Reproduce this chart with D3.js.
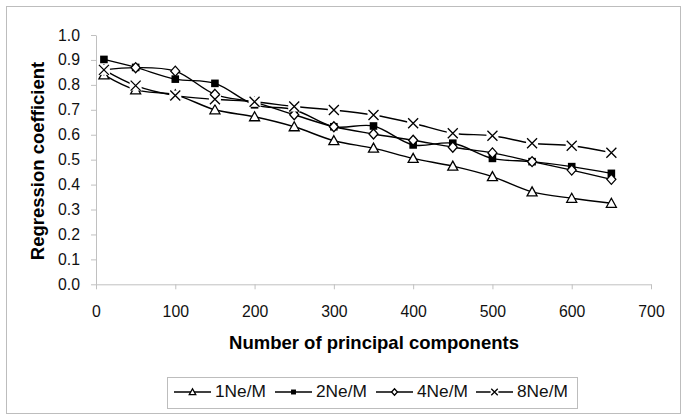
<!DOCTYPE html>
<html><head><meta charset="utf-8">
<script src="https://cdn.jsdelivr.net/npm/d3@7"></script>
<style>body{margin:0;background:#fff}svg{display:block}text{font-family:"Liberation Sans",Arial,sans-serif}</style>
</head><body><svg id="c" width="685" height="420"></svg>
<script>
const components = [10,50,100,150,200,250,300,350,400,450,500,550,600,650];
const s1Ne = [0.84,0.78,0.76,0.70,0.672,0.632,0.576,0.546,0.505,0.474,0.432,0.371,0.345,0.325];
const s2Ne = [0.902,0.870,0.823,0.806,0.72,0.70,0.632,0.635,0.559,0.566,0.505,0.492,0.472,0.445];
const s4Ne = [0.86,0.869,0.855,0.762,0.73,0.68,0.632,0.603,0.578,0.55,0.527,0.492,0.458,0.421];
const s8Ne = [0.86,0.797,0.757,0.742,0.732,0.713,0.699,0.679,0.646,0.606,0.596,0.566,0.556,0.528];
const seriesNames = ["1Ne/M","2Ne/M","4Ne/M","8Ne/M"];
const markers = ["triangle","square","diamond","cross"];
const xTicks = [0,100,200,300,400,500,600,700];
const yTicks = [0,0.1,0.2,0.3,0.4,0.5,0.6,0.7,0.8,0.9,1.0];

const svg = d3.select("#c");
svg.append("rect").attr("x",6.5).attr("y",6.5).attr("width",674).attr("height",407)
  .attr("fill","#fff").attr("stroke","#bdbdbd").attr("stroke-width",1);

const x = d3.scaleLinear().domain([0,700]).range([96,651]);
const y = d3.scaleLinear().domain([0,1]).range([284.3,35]);

const xAxis = svg.append("g").attr("transform","translate(0,284.3)")
  .call(d3.axisBottom(x).tickValues(xTicks).tickSizeInner(5).tickSizeOuter(0).tickPadding(16));
const yAxis = svg.append("g").attr("transform","translate(96,0)")
  .call(d3.axisLeft(y).tickValues(yTicks).tickFormat(d3.format(".1f")).tickSizeInner(5).tickSizeOuter(0).tickPadding(11));
[xAxis,yAxis].forEach(g=>{
  g.select(".domain").attr("stroke","#c0c0c0");
  g.selectAll(".tick line").attr("stroke","#c0c0c0");
  g.selectAll(".tick text").attr("font-size",15.8).attr("fill","#111").attr("font-family","'Liberation Sans',Arial,sans-serif");
});
xAxis.selectAll(".tick text").attr("dy","0.71em");

svg.append("text").attr("x",374).attr("y",349.3).attr("text-anchor","middle")
  .attr("font-size",18.5).attr("font-weight","bold").text("Number of principal components");
svg.append("text").attr("transform","translate(43.5,161) rotate(-90)").attr("text-anchor","middle")
  .attr("font-size",18.5).attr("font-weight","bold").text("Regression coefficient");

const data = [s1Ne,s2Ne,s4Ne,s8Ne];
const line = d3.line().x(d=>x(d[0])).y(d=>y(d[1])).curve(d3.curveCatmullRom.alpha(0.5));

function drawMarker(g, type, cx, cy, s){
  s = s || 1;
  if(type==="triangle"){
    g.append("path").attr("d",`M${cx},${cy-5*s}L${cx+5*s},${cy+4*s}L${cx-5*s},${cy+4*s}Z`)
      .attr("fill","#fff").attr("stroke","#000").attr("stroke-width",1.3);
  } else if(type==="square"){
    g.append("rect").attr("x",cx-3.8*s).attr("y",cy-3.8*s).attr("width",7.6*s).attr("height",7.6*s).attr("fill","#000");
  } else if(type==="diamond"){
    g.append("path").attr("d",`M${cx},${cy-5*s}L${cx+4.5*s},${cy}L${cx},${cy+5*s}L${cx-4.5*s},${cy}Z`)
      .attr("fill","#fff").attr("stroke","#000").attr("stroke-width",1.3);
  } else {
    g.append("rect").attr("x",cx-6*s).attr("y",cy-5*s).attr("width",12*s).attr("height",10*s).attr("fill","#fff");
    g.append("path").attr("d",`M${cx-5*s},${cy-5*s}L${cx+5*s},${cy+5*s}M${cx+5*s},${cy-5*s}L${cx-5*s},${cy+5*s}`)
      .attr("stroke","#000").attr("stroke-width",1.3).attr("fill","none");
  }
}

data.forEach((vals,i)=>{
  const pts = components.map((c,j)=>[c,vals[j]]);
  const g = svg.append("g");
  g.append("path").attr("d",line(pts)).attr("fill","none").attr("stroke","#000").attr("stroke-width",1.4);
  pts.forEach(p=>drawMarker(g, markers[i], x(p[0]), y(p[1])));
});

// legend
const lg = svg.append("g");
lg.append("rect").attr("x",167.5).attr("y",377.5).attr("width",410).attr("height",31)
  .attr("fill","#fff").attr("stroke","#bdbdbd");
const legX = [174,275,376,476];
seriesNames.forEach((n,i)=>{
  const gx = legX[i], gy = 392;
  lg.append("line").attr("x1",gx).attr("x2",gx+37).attr("y1",gy).attr("y2",gy).attr("stroke","#000").attr("stroke-width",1.3);
  drawMarker(lg, markers[i], gx+18.5, gy, 0.65);
  lg.append("text").attr("x",gx+41).attr("y",397.3).attr("font-size",17.3).attr("fill","#111").text(n);
});
</script></body></html>
